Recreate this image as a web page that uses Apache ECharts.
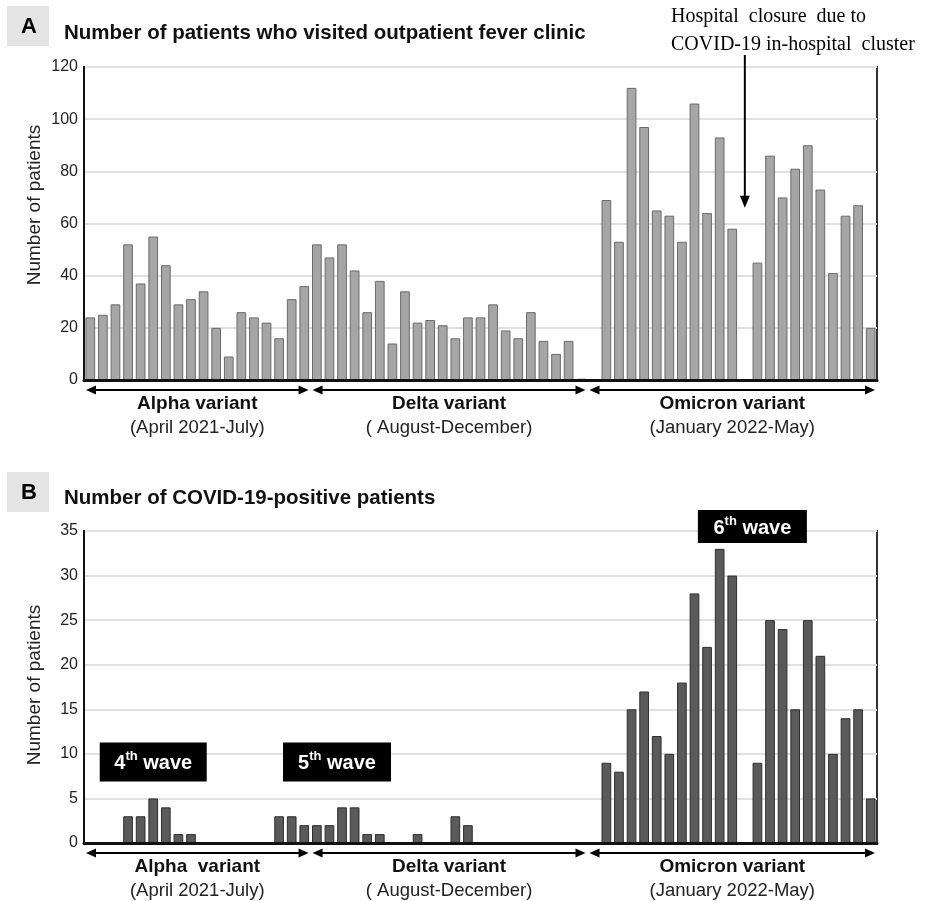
<!DOCTYPE html>
<html>
<head>
<meta charset="utf-8">
<script src="https://cdn.jsdelivr.net/npm/echarts@6/dist/echarts.min.js"></script>
<style>
html,body{margin:0;padding:0;background:#fff;}
#chart{width:929px;height:901px;}
</style>
</head>
<body>
<div id="chart"></div>
<script>
// ---- data ----
const weeks = ['1','2','3','4','5','6','7','8','9','10','11','12','13','14','15','16','17','18','19','20','21','22','23','24','25','26','27','28','29','30','31','32','33','34','35','36','37','38','39','40','41','42','43','44','45','46','47','48','49','50','51','52','53','54','55','56','57','58','59','60','61','62','63'];
const feverVisits = [24,25,29,52,37,55,44,29,31,34,20,9,26,24,22,16,31,36,
  52,47,52,42,26,38,14,34,22,23,21,16,24,24,29,19,16,26,15,10,15,0.5,
  0,69,53,112,97,65,63,53,106,64,93,58,0,45,86,70,81,90,73,41,63,67,20];
const positives = [0,0,0,3,3,5,4,1,1,0,0,0,0,0,0,3,3,2,2,2,4,4,1,1,0,0,1,0,0,3,2,
  0,0,0,0,0,0,0,0,0,0,9,8,15,17,12,10,18,28,22,33,30,0,9,25,24,15,25,21,10,14,15,5];
const variantNamesA = ['Alpha variant','Delta variant','Omicron variant'];
const variantNamesB = ['Alpha  variant','Delta variant','Omicron variant'];
const variantPeriods = ['(April 2021-July)','( August-December)','(January 2022-May)'];
const variantStart = [0,18,40];
const variantEnd = [17,39,62];
const yTicksA = [0,20,40,60,80,100,120];
const yTicksB = [0,5,10,15,20,25,30,35];
const waveNumbers = ['4','5','6'];
const waveWeekPos = [5.0,19.6,52.6];
const waveValuePos = [9.1,9.1,35.5];
const closureWeek = 52;
const closureArrowValue = 66;

// ---- chart ----
const chart = echarts.init(document.getElementById('chart'), null, {renderer:'canvas'});
const font = 'Liberation Sans, Arial, sans-serif';

function yAxisCfg(ticks, gi){
  return {
    type:'value', gridIndex:gi, min:ticks[0], max:ticks[ticks.length-1], interval:ticks[1]-ticks[0],
    axisLine:{show:true, lineStyle:{color:'#111', width:2}},
    axisTick:{show:false},
    axisLabel:{fontFamily:font, fontSize:16, color:'#222', margin:6},
    splitLine:{show:true, lineStyle:{color:'#e0e0e0', width:2}}
  };
}
function xAxisCfg(gi){
  return {
    type:'category', gridIndex:gi, data:weeks, boundaryGap:true,
    axisLine:{show:true, lineStyle:{color:'#111', width:3}, onZero:false},
    axisTick:{show:false}, axisLabel:{show:false}, splitLine:{show:false}, z:5
  };
}

const option = {
  animation:false,
  backgroundColor:'#fff',
  title:[
    {text:'Number of patients who visited outpatient fever clinic', left:59, top:18,
     textStyle:{fontFamily:font, fontSize:20.5, fontWeight:'bold', color:'#111'}},
    {text:'Number of COVID-19-positive patients', left:59, top:483,
     textStyle:{fontFamily:font, fontSize:20.5, fontWeight:'bold', color:'#111'}}
  ],
  grid:[
    {left:84, right:52, top:67, height:313, show:true, borderColor:'#333', borderWidth:2, containLabel:false},
    {left:84, right:52, top:531, height:312, show:true, borderColor:'#333', borderWidth:2, containLabel:false}
  ],
  xAxis:[xAxisCfg(0), xAxisCfg(1)],
  yAxis:[yAxisCfg(yTicksA,0), yAxisCfg(yTicksB,1)],
  series:[
    {type:'bar', xAxisIndex:0, yAxisIndex:0, data:feverVisits, barWidth:'77%',
     itemStyle:{color:'#a6a6a6', borderColor:'#6a6a6a', borderWidth:1}},
    {type:'bar', xAxisIndex:1, yAxisIndex:1, data:positives, barWidth:'77%',
     itemStyle:{color:'#5a5a5a', borderColor:'#2e2e2e', borderWidth:1}}
  ]
};
chart.setOption(option);

// ---- decorations positioned through the axes ----
function px(ax, i){
  const x0 = chart.convertToPixel({xAxisIndex:ax}, weeks[0]);
  const x1 = chart.convertToPixel({xAxisIndex:ax}, weeks[1]);
  return x0 + (x1-x0)*i;
}
function py(ax, v){ return chart.convertToPixel({yAxisIndex:ax}, v); }

const g = [];
function arrowHead(x, y, dir, size){ // dir: 1 right, -1 left, 2 down
  if(dir===2){
    return {type:'polygon', shape:{points:[[x,y],[x-5,y-size],[x+5,y-size]]}, style:{fill:'#000'}, z:20};
  }
  return {type:'polygon', shape:{points:[[x,y],[x-dir*size,y-4.5],[x-dir*size,y+4.5]]}, style:{fill:'#000'}, z:20};
}
function panelLabel(letter, y){
  g.push({type:'rect', shape:{x:7, y:y, width:42, height:40}, style:{fill:'#e4e4e4'}, z:1});
  g.push({type:'text', style:{text:letter, x:29, y:y+21, align:'center', verticalAlign:'middle',
    font:'bold 22px Liberation Sans, Arial, sans-serif', fill:'#000'}, z:2});
}
panelLabel('A', 6);
panelLabel('B', 472);

// y axis names
function yName(ax, cy){
  g.push({type:'text', x:35, y:cy, rotation:Math.PI/2, z:20, style:{text:'Number of patients', x:0, y:0,
    align:'center', verticalAlign:'middle', font:'19px Liberation Sans, Arial, sans-serif', fill:'#222'}});
}
yName(0, 205);
yName(1, 685);

[0,1].forEach(ax=>{
  const base = py(ax, 0);
  const band = px(ax,1)-px(ax,0);
  const ay = base + 10;
  const names = ax===0 ? variantNamesA : variantNamesB;
  for(let k=0;k<names.length;k++){
    const xs = px(ax, variantStart[k]) - band/2 + 2;
    const xe = px(ax, variantEnd[k]) + band/2 - 2;
    g.push({type:'line', shape:{x1:xs+6, y1:ay, x2:xe-6, y2:ay}, style:{stroke:'#000', lineWidth:2}, z:20});
    g.push(arrowHead(xs, ay, -1, 10));
    g.push(arrowHead(xe, ay, 1, 10));
    const cx = (xs+xe)/2;
    g.push({type:'text', style:{text:names[k], x:cx, y:base+24, align:'center', verticalAlign:'middle',
      font:'bold 19px Liberation Sans, Arial, sans-serif', fill:'#111'}, z:20});
    g.push({type:'text', style:{text:variantPeriods[k], x:cx, y:base+48, align:'center', verticalAlign:'middle',
      font:'18.5px Liberation Sans, Arial, sans-serif', fill:'#222'}, z:20});
  }
});

// hospital closure annotation
const cxA = px(0, closureWeek);
const tipY = py(0, closureArrowValue);
g.push({type:'line', shape:{x1:cxA, y1:55, x2:cxA, y2:tipY-10}, style:{stroke:'#000', lineWidth:2}, z:20});
g.push(arrowHead(cxA, tipY, 2, 12));
g.push({type:'text', style:{text:'Hospital  closure  due to', x:671, y:17, align:'left', verticalAlign:'middle',
  font:'20px Liberation Serif, Times New Roman, serif', fill:'#000'}, z:20});
g.push({type:'text', style:{text:'COVID-19 in-hospital  cluster', x:671, y:45, align:'left', verticalAlign:'middle',
  font:'20px Liberation Serif, Times New Roman, serif', fill:'#000'}, z:20});

// wave labels
const boxW = [107,108,109], boxH = [39,39,33];
for(let k=0;k<waveNumbers.length;k++){
  const cx = px(1, waveWeekPos[k]);
  const cy = py(1, waveValuePos[k]);
  g.push({type:'rect', shape:{x:cx-boxW[k]/2, y:cy-boxH[k]/2, width:boxW[k], height:boxH[k]}, style:{fill:'#000'}, z:30});
  g.push({type:'text', z:31, style:{
    text:'{a|'+waveNumbers[k]+'}{s|th}{a| wave}', x:cx, y:cy, align:'center', verticalAlign:'middle',
    rich:{
      a:{fontFamily:font, fontSize:20, fontWeight:'bold', fill:'#fff', color:'#fff', lineHeight:24, verticalAlign:'bottom'},
      s:{fontFamily:font, fontSize:13, fontWeight:'bold', fill:'#fff', color:'#fff', lineHeight:13, verticalAlign:'top'}
    }
  }});
}
chart.setOption({graphic:{elements:g}});
</script>
</body>
</html>
